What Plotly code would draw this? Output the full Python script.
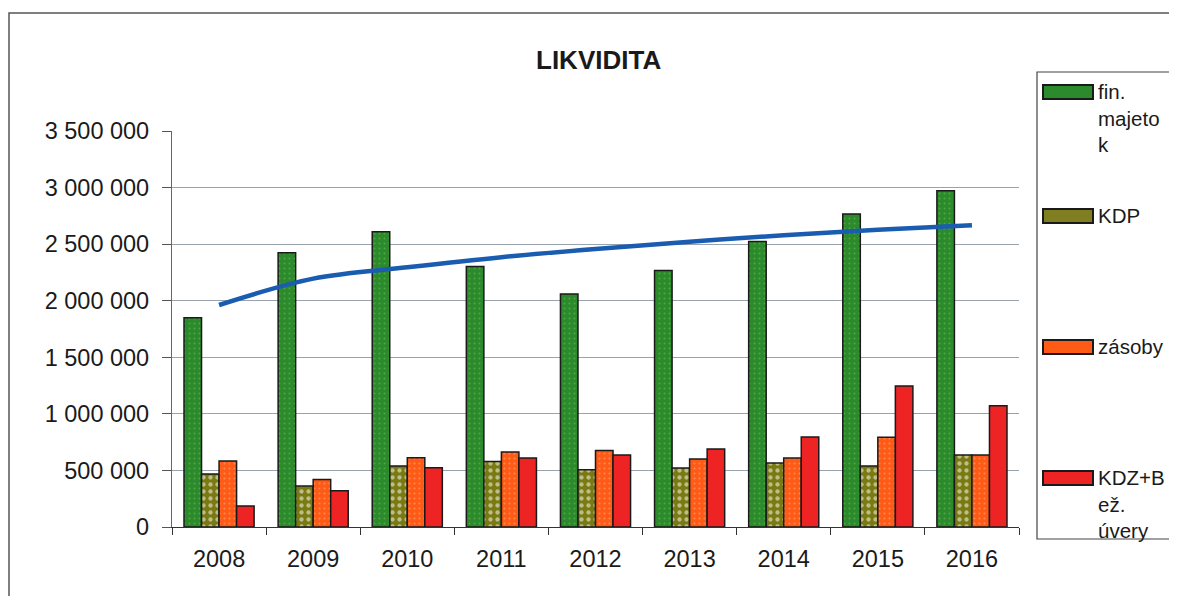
import plotly.graph_objects as go

# Data
years = ["2008", "2009", "2010", "2011", "2012", "2013", "2014", "2015", "2016"]
fin_majetok = [1850000, 2424000, 2610000, 2303000, 2059000, 2268000, 2524000, 2766000, 2972000]
kdp = [468000, 362000, 539000, 580000, 506000, 521000, 566000, 539000, 636000]
zasoby = [583000, 420000, 613000, 663000, 677000, 601000, 610000, 793000, 636000]
kdz_bez_uvery = [186000, 321000, 524000, 610000, 636000, 689000, 795000, 1246000, 1072000]
# logarithmic trend line of fin. majetok, read at each year
trend = [1962000, 2195000, 2295000, 2385000, 2458000, 2522000, 2578000, 2627000, 2667000]

legend_names = ["fin.<br>majeto<br>k", "KDP", "zásoby", "KDZ+B<br>ež.<br>úvery"]
y_ticks = [0, 500000, 1000000, 1500000, 2000000, 2500000, 3000000, 3500000]

FONT = "Arial, Liberation Sans, sans-serif"
GREEN = "#2b8a2b"
OLIVE = "#7a7a12"
ORANGE = "#ff5a16"
RED = "#ee2424"
BORDER = dict(color="#1a1a1a", width=1.5)

fig = go.Figure()
fig.add_trace(go.Bar(
    x=years, y=fin_majetok, name="fin. majetok",
    marker=dict(color=GREEN, line=BORDER,
                pattern=dict(shape=".", bgcolor=GREEN, fgcolor="#77c05a", size=5, solidity=0.12)),
))
fig.add_trace(go.Bar(
    x=years, y=kdp, name="KDP",
    marker=dict(color=OLIVE, line=BORDER,
                pattern=dict(shape=".", bgcolor=OLIVE, fgcolor="white", size=7, solidity=0.3)),
))
fig.add_trace(go.Bar(
    x=years, y=zasoby, name="zásoby",
    marker=dict(color=ORANGE, line=BORDER,
                pattern=dict(shape=".", bgcolor=ORANGE, fgcolor="#ffb58c", size=5, solidity=0.15)),
))
fig.add_trace(go.Bar(
    x=years, y=kdz_bez_uvery, name="KDZ+Bež. úvery",
    marker=dict(color=RED, line=BORDER),
))
fig.add_trace(go.Scatter(
    x=years, y=trend, mode="lines", name="trend",
    line=dict(color="#1a5cb0", width=4.5, shape="spline"),
))

# the page body has an 8px margin; on screen the plot area is x 172..1019, y 131..527
def px_x(p):
    return (p - 172) / 847


def px_y(p):
    return (527 - p) / 396


shapes = [
    # outer chart frame
    dict(type="rect", xref="paper", yref="paper",
         x0=px_x(9), x1=px_x(1185), y0=px_y(612), y1=px_y(13),
         line=dict(color="#555555", width=1.5)),
    # legend box
    dict(type="rect", xref="paper", yref="paper",
         x0=px_x(1037), x1=px_x(1173), y0=px_y(539), y1=px_y(72),
         line=dict(color="#444444", width=1.2), fillcolor="white"),
]
annotations = []
swatch_cols = [GREEN, "#7f7f22", ORANGE, RED]
swatch_centres = [92, 216, 347, 478]
for name, col, cy in zip(legend_names, swatch_cols, swatch_centres):
    shapes.append(dict(type="rect", xref="paper", yref="paper",
                       x0=px_x(1043), x1=px_x(1093), y0=px_y(cy + 7), y1=px_y(cy - 7),
                       fillcolor=col, line=dict(color="#1a1a1a", width=2)))
    annotations.append(dict(xref="paper", yref="paper", x=px_x(1096), y=px_y(cy - 14),
                            xanchor="left", yanchor="top", align="left", showarrow=False,
                            text=name, font=dict(family=FONT, size=20.5, color="#1a1a1a")))

annotations.append(dict(xref="paper", yref="paper", x=px_x(598), y=px_y(60),
                        xanchor="center", yanchor="middle", showarrow=False,
                        text="<b>LIKVIDITA</b>", font=dict(family=FONT, size=26, color="#1a1a1a")))

fig.update_layout(
    width=1169, height=588, autosize=False,
    margin=dict(l=164, r=158, t=123, b=69),
    paper_bgcolor="white", plot_bgcolor="white",
    barmode="group", bargap=0.255, bargroupgap=0,
    showlegend=False,
    separators=". ",
    font=dict(family=FONT, color="#1a1a1a"),
    shapes=shapes, annotations=annotations,
)
fig.update_xaxes(
    type="category", showgrid=False,
    showline=True, linecolor="#333333", linewidth=1.2,
    ticks="outside", tickson="boundaries", ticklen=7, tickcolor="#333333",
    tickfont=dict(size=23.5, family=FONT, color="#1a1a1a"), ticklabelstandoff=11,
)
fig.update_yaxes(
    range=[0, 3500000], tickvals=y_ticks, tickformat=",d",
    showgrid=True, gridcolor="#98a3ae", gridwidth=1,
    showline=True, linecolor="#666666", linewidth=1.2,
    ticks="outside", ticklen=9, tickcolor="#555555",
    tickfont=dict(size=23.5, family=FONT, color="#1a1a1a"), ticklabelstandoff=8,
    zeroline=False,
)

fig.write_html("out.html")
